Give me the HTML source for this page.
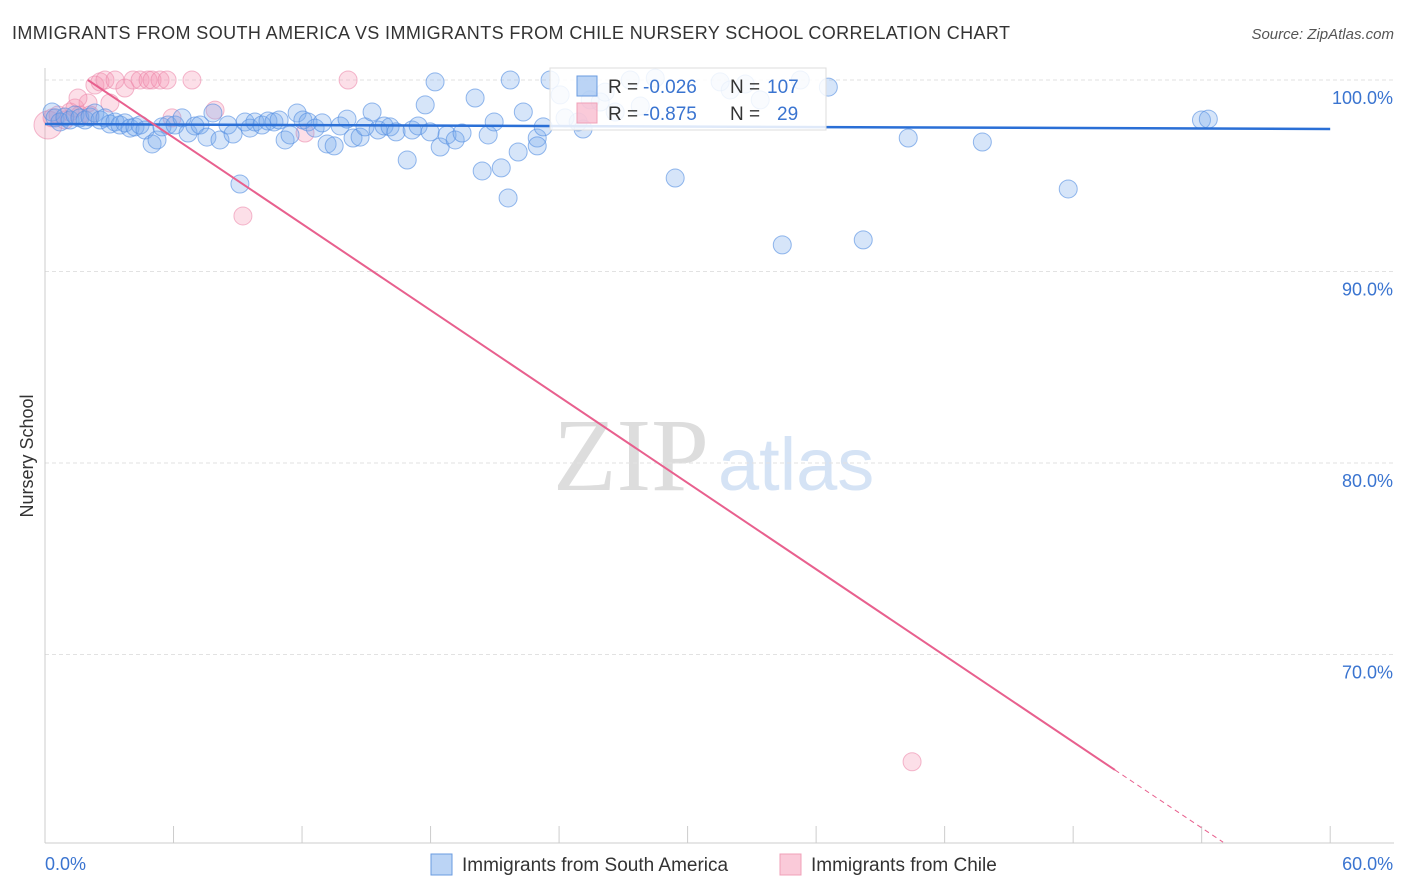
<!DOCTYPE html>
<html><head><meta charset="utf-8"><style>
body{margin:0;background:#fff;font-family:"Liberation Sans",sans-serif}
svg{display:block}
</style></head><body>
<svg id="c" width="1406" height="892">
<text x="12" y="39" font-size="18" fill="#333" textLength="998">IMMIGRANTS FROM SOUTH AMERICA VS IMMIGRANTS FROM CHILE NURSERY SCHOOL CORRELATION CHART</text>
<text x="1394" y="39" font-size="15" fill="#555" font-style="italic" text-anchor="end">Source: ZipAtlas.com</text>
<text x="33" y="456" font-size="18" fill="#333" text-anchor="middle" transform="rotate(-90 33 456)">Nursery School</text>
<g><text x="553" y="490" font-size="104" font-family="Liberation Serif,serif" fill="#ddd">ZIP</text><text x="718" y="490" font-size="74" fill="#d5e3f5">atlas</text></g>
<g id="grid"></g><g id="pts"></g><g id="lines"></g>
<g>
<rect x="550" y="68" width="276" height="62" fill="rgba(255,255,255,0.85)" stroke="#ddd"/>
<rect x="577" y="76" width="20" height="20" fill="rgba(120,170,235,0.5)" stroke="#6a9be0"/>
<rect x="577" y="103" width="20" height="20" fill="rgba(245,150,180,0.5)" stroke="#f0a0b8"/>
<text x="608" y="93" font-size="19" fill="#333">R =</text><text x="643" y="93" font-size="19" fill="#3a74d0">-0.026</text>
<text x="730" y="93" font-size="19" fill="#333">N =</text><text x="767" y="93" font-size="19" fill="#3a74d0">107</text>
<text x="608" y="120" font-size="19" fill="#333">R =</text><text x="643" y="120" font-size="19" fill="#3a74d0">-0.875</text>
<text x="730" y="120" font-size="19" fill="#333">N =</text><text x="777" y="120" font-size="19" fill="#3a74d0">29</text>
</g>
<g>
<rect x="431" y="854" width="21" height="21" fill="rgba(120,170,235,0.5)" stroke="#6a9be0"/>
<text x="462" y="871" font-size="19" fill="#333">Immigrants from South America</text>
<rect x="780" y="854" width="21" height="21" fill="rgba(245,150,180,0.5)" stroke="#f0a0b8"/>
<text x="811" y="871" font-size="19" fill="#333">Immigrants from Chile</text>
</g>
</svg>
<script>
const yTicks=[100,90,80,70];
const xTickLabels=["0.0%","60.0%"];
const blueX=[0.33,0.47,0.70,0.93,1.17,1.40,1.63,1.87,2.10,2.33,2.57,2.80,3.03,3.27,3.50,3.73,3.97,4.20,4.44,4.67,5.00,5.23,5.46,5.74,6.07,6.40,6.68,7.00,7.24,7.56,7.84,8.17,8.54,8.78,9.10,9.34,9.57,9.80,10.13,10.41,10.69,10.93,11.21,11.44,11.77,12.04,12.28,12.61,12.94,13.17,13.50,13.78,14.10,14.38,14.71,14.94,15.27,15.55,15.83,16.11,16.39,16.91,17.14,17.42,17.75,17.98,18.21,18.45,18.77,19.15,19.47,20.08,20.41,20.69,20.97,21.30,21.62,21.72,22.09,22.33,22.98,22.98,23.26,23.58,24.05,24.28,24.89,25.12,25.45,25.92,26.15,26.62,27.32,27.79,28.49,29.42,31.52,31.99,32.69,33.39,34.42,35.26,36.57,38.20,40.30,43.76,47.77,53.99,54.31];
const blueY=[98.33,98.02,97.81,98.07,97.91,98.17,98.02,97.91,98.07,98.28,97.91,98.02,97.70,97.81,97.65,97.76,97.49,97.55,97.65,97.39,96.66,96.87,97.55,97.65,97.65,98.02,97.23,97.60,97.65,97.02,98.28,96.87,97.65,97.18,94.57,97.81,97.49,97.81,97.65,97.86,97.81,97.91,96.87,97.13,98.28,97.91,97.81,97.49,97.76,96.66,96.56,97.60,97.96,96.97,97.02,97.55,98.33,97.39,97.60,97.55,97.29,95.82,97.39,97.60,98.70,97.29,99.9,96.50,97.13,96.87,97.23,99.06,95.25,97.13,97.81,95.41,93.84,100.0,96.24,98.33,96.97,96.56,97.55,100.0,99.22,98.02,97.81,97.44,98.96,98.85,99.37,98.33,100.0,98.64,100.1,94.88,99.9,99.48,99.79,98.96,91.39,100.0,99.63,91.65,96.97,96.76,94.31,97.91,97.96];
const pinkX=[0.14,0.33,0.61,0.93,1.17,1.40,1.63,2.01,2.33,1.54,2.10,2.57,2.80,3.03,3.27,3.73,4.11,4.44,4.81,5.00,5.37,5.70,5.93,6.86,7.94,9.24,12.14,14.15,40.48];
const pinkY=[97.65,98.02,98.17,97.91,98.33,98.54,98.17,98.80,99.74,99.06,98.17,99.9,100,98.8,100,99.58,100,100,100,100,100,100,98.02,100,98.43,92.90,97.23,100,64.40];
const blueTrend=[[0,97.70],[60,97.44]];
const pinkTrend=[[2.0,100],[49.95,63.97]];
const pinkTrendDash=[[49.95,63.97],[55,60.2]];
const X=v=>45+v*21.42, Y=v=>80+(100-v)*19.15;
const NS="http://www.w3.org/2000/svg";
function mk(t,a,p){const e=document.createElementNS(NS,t);for(const k in a)e.setAttribute(k,a[k]);p.appendChild(e);return e;}
const grid=document.getElementById('grid');
yTicks.forEach(t=>{
 const l=mk('line',{x1:45,x2:1394,y1:Y(t),y2:Y(t),stroke:'#e2e2e2','stroke-dasharray':'4,3'},grid);
 
 
 const tx=mk('text',{x:1393,y:Y(t)+24,'font-size':18,fill:'#3a74d0','text-anchor':'end'},grid);
 tx.textContent=t.toFixed(1)+'%';
 
 
});
const ax=mk('line',{x1:45,x2:1394,y1:843,y2:843,stroke:'#ccc'},grid);


const ay=mk('line',{x1:45,x2:45,y1:68,y2:843,stroke:'#ccc'},grid);


for(let i=0;i<=10;i++){const tk=mk('line',{x1:X(i*6),x2:X(i*6),y1:826,y2:843,stroke:'#ccc'},grid);
 
 }
[[0,'start'],[60,'end']].forEach((d,i)=>{const tx=mk('text',{x:X(d[0])+(i?63:0),y:870,'font-size':18,fill:'#3a74d0','text-anchor':d[1]},grid);
 tx.textContent=xTickLabels[i];
 
 });
const pts=document.getElementById('pts');
pinkX.forEach((x,i)=>{const c=mk('circle',{cx:X(x),cy:Y(pinkY[i]),r:i==0?14:9,fill:'rgba(245,150,180,0.3)',stroke:'rgba(235,130,165,0.55)'},pts);
 
 });
blueX.forEach((x,i)=>{const c=mk('circle',{cx:X(x),cy:Y(blueY[i]),r:9,fill:'rgba(120,170,235,0.3)',stroke:'rgba(80,140,225,0.6)'},pts);
 
 });
const lines=document.getElementById('lines');
const b=mk('line',{x1:X(blueTrend[0][0]),y1:Y(blueTrend[0][1]),x2:X(blueTrend[1][0]),y2:Y(blueTrend[1][1]),stroke:'#2a6fd6','stroke-width':2.5},lines);


const p=mk('line',{x1:X(pinkTrend[0][0]),y1:Y(pinkTrend[0][1]),x2:X(pinkTrend[1][0]),y2:Y(pinkTrend[1][1]),stroke:'#e8608e','stroke-width':2},lines);


const pd=mk('line',{x1:X(pinkTrendDash[0][0]),y1:Y(pinkTrendDash[0][1]),x2:X(pinkTrendDash[1][0]),y2:Y(pinkTrendDash[1][1]),stroke:'#e8608e','stroke-width':1,'stroke-dasharray':'5,4'},lines);


</script>
</body></html>
